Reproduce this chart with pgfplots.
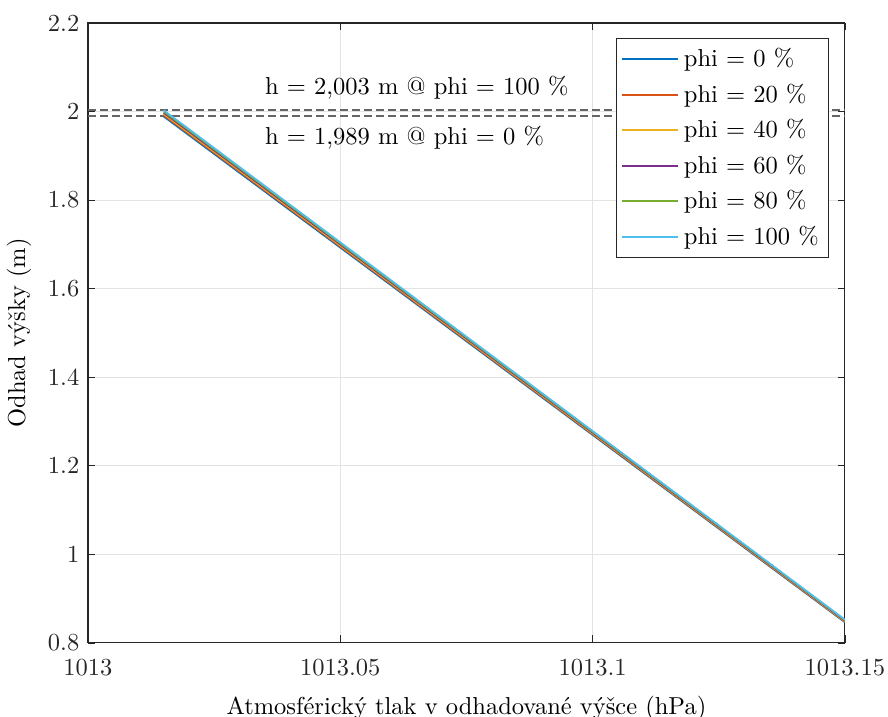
\documentclass[border=0pt]{standalone}
\usepackage{pgfplots}
\pgfplotsset{compat=1.18}
\definecolor{c1}{rgb}{0,0.447,0.741}
\definecolor{c2}{rgb}{0.85,0.325,0.098}
\definecolor{c3}{rgb}{0.929,0.694,0.125}
\definecolor{c4}{rgb}{0.494,0.184,0.556}
\definecolor{c5}{rgb}{0.466,0.674,0.188}
\definecolor{c6}{rgb}{0.301,0.745,0.933}
\definecolor{axc}{rgb}{0.15,0.15,0.15}
\begin{document}
\begin{tikzpicture}
\begin{axis}[
  scale only axis,
  width=309pt, height=253pt,
  xmin=1013, xmax=1013.15,
  ymin=0.8, ymax=2.2,
  xtick={1013,1013.05,1013.1,1013.15},
  ytick={0.8,1,1.2,1.4,1.6,1.8,2,2.2},
  xticklabels={1013,1013.05,1013.1,1013.15},
  yticklabels={0.8,1,1.2,1.4,1.6,1.8,2,2.2},
  scaled x ticks=false,
  grid=major,
  grid style={gray!22, line width=0.4pt},
  axis line style={axc, line width=0.5pt},
  tick style={axc},
  tick align=inside,
  major tick length=3pt,
  ticklabel style={text=axc},
  xticklabel style={yshift=-3pt},
  xlabel={Atmosférický tlak v odhadované výšce (hPa)},
  xlabel style={yshift=-1.5pt},
  ylabel={Odhad výšky (m)},
  legend style={at={(0.979,0.976)}, anchor=north east, draw=axc, fill=white,
    row sep=1.5pt, font=\normalsize, inner sep=2pt},
  legend cell align=left,
  legend image code/.code={\draw[#1, line width=0.7pt] (0pt,0pt) -- (23pt,0pt);},
]
\addplot[gray!80!black, dash pattern=on 3.3pt off 1.6pt, line width=0.75pt, forget plot] coordinates {(1013,2.003) (1013.15,2.003)};
\addplot[gray!80!black, dash pattern=on 3.3pt off 1.6pt, line width=0.75pt, forget plot] coordinates {(1013,1.989) (1013.15,1.989)};
\addplot[c1, line width=0.7pt] coordinates {(1013.015,1.9890) (1013.15,0.8464)};
\addplot[c2, line width=0.7pt] coordinates {(1013.015,1.9918) (1013.15,0.8476)};
\addplot[c3, line width=0.7pt] coordinates {(1013.015,1.9946) (1013.15,0.8488)};
\addplot[c4, line width=0.7pt] coordinates {(1013.015,1.9974) (1013.15,0.8500)};
\addplot[c5, line width=0.7pt] coordinates {(1013.015,2.0002) (1013.15,0.8512)};
\addplot[c6, line width=0.7pt] coordinates {(1013.015,2.0030) (1013.15,0.8523)};
\legend{phi = 0 \%, phi = 20 \%, phi = 40 \%, phi = 60 \%, phi = 80 \%, phi = 100 \%}
\node[anchor=west, inner sep=0pt] at (axis cs:1013.035,2.053) {h = 2,003 m @ phi = 100 \%};
\node[anchor=west, inner sep=0pt] at (axis cs:1013.035,1.940) {h = 1,989 m @ phi = 0 \%};
\coordinate (sw) at (rel axis cs:0,0);
\coordinate (ne) at (rel axis cs:1,1);
\end{axis}
\pgfresetboundingbox
\path[use as bounding box] ([shift={(-35.9pt,-30.2pt)}]sw) rectangle ([shift={(17.6pt,9.4pt)}]ne);
\end{tikzpicture}
\end{document}
